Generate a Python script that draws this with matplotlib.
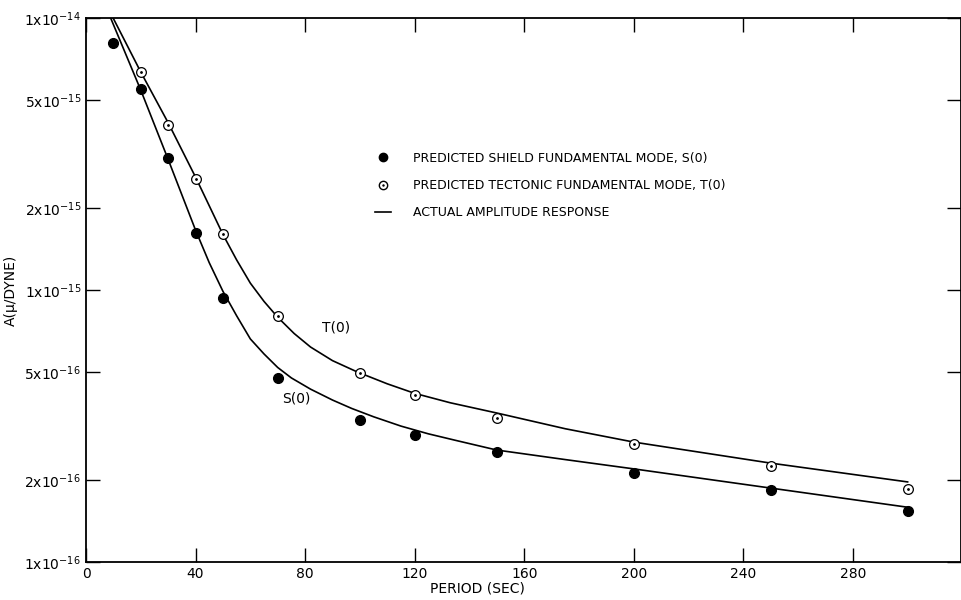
import numpy as np
import matplotlib
matplotlib.use('Agg')
import matplotlib.pyplot as plt
from matplotlib.lines import Line2D

# predicted points
per = [10, 20, 30, 40, 50, 70, 100, 120, 150, 200, 250, 300]
s_pts = [8.1e-15, 5.48e-15, 3.06e-15, 1.62e-15, 9.35e-16, 4.75e-16,
         3.32e-16, 2.93e-16, 2.54e-16, 2.12e-16, 1.84e-16, 1.54e-16]
per_t = [20, 30, 40, 50, 70, 100, 120, 150, 200, 250, 300]
t_pts = [6.33e-15, 4.04e-15, 2.56e-15, 1.61e-15, 8.0e-16, 4.95e-16,
         4.11e-16, 3.38e-16, 2.72e-16, 2.25e-16, 1.85e-16]

# actual amplitude response curves (traced)
s_x = [9, 20, 30, 40, 45, 50, 55, 60, 65, 70, 75, 82, 90, 97, 105, 115, 125, 135,
       150, 175, 200, 250, 300]
s_y = [1.0e-14, 5.43e-15, 3.02e-15, 1.66e-15, 1.26e-15, 9.89e-16, 8.04e-16, 6.61e-16,
       5.82e-16, 5.19e-16, 4.75e-16, 4.32e-16, 3.94e-16, 3.67e-16, 3.42e-16, 3.16e-16,
       2.96e-16, 2.80e-16, 2.58e-16, 2.38e-16, 2.20e-16, 1.87e-16, 1.59e-16]
t_x = [9.9, 20, 30, 40, 45, 50, 55, 60, 65, 70, 76, 82, 90, 99, 110, 120, 133, 150,
       175, 200, 250, 300]
t_y = [1.0e-14, 6.33e-15, 4.12e-15, 2.60e-15, 2.04e-15, 1.60e-15, 1.29e-15, 1.06e-15,
       9.08e-16, 7.94e-16, 6.92e-16, 6.17e-16, 5.50e-16, 5.00e-16, 4.52e-16, 4.17e-16,
       3.85e-16, 3.53e-16, 3.09e-16, 2.76e-16, 2.31e-16, 1.97e-16]

xt = [0, 40, 80, 120, 160, 200, 240, 280]
yt = [1e-16, 2e-16, 5e-16, 1e-15, 2e-15, 5e-15, 1e-14]
ylab = [r'1x10$^{-16}$', r'2x10$^{-16}$', r'5x10$^{-16}$', r'1x10$^{-15}$',
        r'2x10$^{-15}$', r'5x10$^{-15}$', r'1x10$^{-14}$']

fig = plt.figure(figsize=(9.62, 6), dpi=100)
ax = fig.add_axes([0.0894, 0.0633, 0.9096, 0.9067])

ax.plot(s_x, s_y, color='black', lw=1.2)
ax.plot(t_x, t_y, color='black', lw=1.2)
ax.plot(per, s_pts, 'o', color='black', ms=7)
ax.plot(per_t, t_pts, 'o', mfc='white', mec='black', mew=0.9, ms=7)
ax.plot(per_t, t_pts, '.', color='black', ms=2)

ax.text(86, 7.3e-16, 'T(0)', fontsize=10, va='center')
ax.text(71.5, 4.0e-16, 'S(0)', fontsize=10, va='center')

ax.set_yscale('log')
ax.set_xlim(0, 319.5)
ax.set_ylim(1e-16, 1e-14)
ax.set_xticks(xt)
ax.set_yticks(yt)
ax.set_yticklabels(ylab)
ax.minorticks_off()
ax.tick_params(direction='in', length=10, width=1, top=True, right=True, labelsize=10)
for s in ax.spines.values():
  s.set_linewidth(1.3)

ax.set_xlabel('PERIOD (SEC)', fontsize=10, labelpad=2)
ax.xaxis.set_label_coords(0.447, -0.035)
ax.set_ylabel('A(μ/DYNE)', fontsize=10)
ax.yaxis.set_label_coords(-0.078, 0.5)

h = [Line2D([], [], ls='none', marker='o', color='black', ms=6),
     (Line2D([], [], ls='none', marker='o', mfc='white', mec='black', ms=6),
      Line2D([], [], ls='none', marker='.', color='black', ms=1.5)),
     Line2D([], [], color='black', lw=1.2)]
lab = ['PREDICTED SHIELD FUNDAMENTAL MODE, S(0)',
       'PREDICTED TECTONIC FUNDAMENTAL MODE, T(0)',
       'ACTUAL AMPLITUDE RESPONSE']
ax.legend(h, lab, loc='upper left', bbox_to_anchor=(0.317, 0.775), frameon=False,
          fontsize=9, handlelength=1.3, handletextpad=1.75, labelspacing=1.15)

plt.savefig('out.png', dpi=100)
